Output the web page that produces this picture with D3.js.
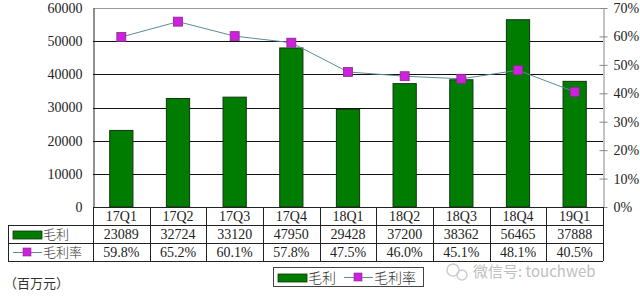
<!DOCTYPE html>
<html>
<head>
<meta charset="utf-8">
<script src="https://cdn.jsdelivr.net/npm/d3@7"></script>
<style>
  body { margin: 0; background: #fff; }
  svg { display: block; font-family: "Liberation Serif", "Noto Sans CJK SC", serif; }
</style>
</head>
<body>
<div id="chart"></div>
<script>
const quarters = ["17Q1", "17Q2", "17Q3", "17Q4", "18Q1", "18Q2", "18Q3", "18Q4", "19Q1"];
const grossProfit = [23089, 32724, 33120, 47950, 29428, 37200, 38362, 56465, 37888];
const grossMargin = [59.8, 65.2, 60.1, 57.8, 47.5, 46.0, 45.1, 48.1, 40.5];
const leftTicks = [0, 10000, 20000, 30000, 40000, 50000, 60000];
const rightTicks = [0, 10, 20, 30, 40, 50, 60, 70];
const seriesNames = ["毛利", "毛利率"];

const width = 640, height = 299;
const plot = { left: 93, right: 603, top: 8, bottom: 207 };
const rowH = 18;
const tableLeft = 8;

const svg = d3.select("#chart").append("svg")
  .attr("width", width).attr("height", height);

const x = d3.scaleBand().domain(quarters).range([plot.left, plot.right]).padding(0);
const y = d3.scaleLinear().domain([0, 60000]).range([plot.bottom, plot.top]);
const y2 = d3.scaleLinear().domain([0, 70]).range([plot.bottom, plot.top]);

const green = "#007d00";
const magenta = "#cc22dd";
const lineColor = "#5a8c98";

// gridlines
svg.append("g")
  .selectAll("line")
  .data(leftTicks.filter((d) => d > 0 && d < 60000))
  .join("line")
  .attr("x1", plot.left).attr("x2", plot.right)
  .attr("y1", (d) => Math.round(y(d)) + 0.5).attr("y2", (d) => Math.round(y(d)) + 0.5)
  .attr("stroke", "#111").attr("stroke-width", 1);

// top border
svg.append("line")
  .attr("x1", plot.left).attr("x2", plot.right)
  .attr("y1", plot.top + 0.5).attr("y2", plot.top + 0.5)
  .attr("stroke", "#999");

// left axis
const leftAxis = d3.axisLeft(y).tickValues(leftTicks).tickFormat(d3.format("d"))
  .tickSize(0).tickPadding(11);
svg.append("g")
  .attr("transform", `translate(${plot.left + 0.5},0)`)
  .call(leftAxis)
  .call((g) => g.select(".domain").attr("stroke", "#222"))
  .call((g) => g.selectAll("text").attr("font-size", 14).attr("fill", "#222")
    .attr("font-family", "Liberation Serif"));

// right axis
const rightAxis = d3.axisRight(y2).tickValues(rightTicks).tickFormat((d) => d + "%")
  .tickSizeInner(4).tickSizeOuter(0).tickPadding(6);
svg.append("g")
  .attr("transform", `translate(${plot.right + 0.5},0)`)
  .call(rightAxis)
  .call((g) => g.select(".domain").attr("stroke", "#888"))
  .call((g) => g.selectAll(".tick line").attr("stroke", "#888").attr("x1", -4))
  .call((g) => g.selectAll("text").attr("font-size", 14).attr("fill", "#222")
    .attr("font-family", "Liberation Serif"));

// bars
const barW = x.bandwidth() * 0.41;
svg.append("g")
  .selectAll("rect")
  .data(grossProfit)
  .join("rect")
  .attr("x", (d, i) => x(quarters[i]) + (x.bandwidth() - barW) / 2)
  .attr("y", (d) => y(d))
  .attr("width", barW)
  .attr("height", (d) => y(0) - y(d))
  .attr("fill", green)
  .attr("stroke", "#113311").attr("stroke-width", 1);

// margin line
const line = d3.line()
  .x((d, i) => x(quarters[i]) + x.bandwidth() / 2)
  .y((d) => y2(d));
svg.append("path")
  .datum(grossMargin)
  .attr("d", line)
  .attr("fill", "none")
  .attr("stroke", lineColor)
  .attr("stroke-width", 1);

svg.append("g")
  .selectAll("rect")
  .data(grossMargin)
  .join("rect")
  .attr("x", (d, i) => x(quarters[i]) + x.bandwidth() / 2 - 4.5)
  .attr("y", (d) => y2(d) - 4.5)
  .attr("width", 9).attr("height", 9)
  .attr("fill", magenta)
  .attr("stroke", "#8a2a8a").attr("stroke-width", 0.8);

// data table
const table = svg.append("g").attr("stroke", "#222").attr("stroke-width", 1);
const t0 = plot.bottom;
[[plot.left, t0], [tableLeft, t0 + rowH], [tableLeft, t0 + 2 * rowH], [tableLeft, t0 + 3 * rowH]]
  .forEach(([x0, yy]) => {
    table.append("line")
      .attr("x1", x0).attr("x2", plot.right)
      .attr("y1", yy + 0.5).attr("y2", yy + 0.5);
  });
table.append("line").attr("x1", tableLeft + 0.5).attr("x2", tableLeft + 0.5)
  .attr("y1", t0 + rowH).attr("y2", t0 + 3 * rowH);
[plot.left].concat(quarters.map((q) => x(q) + x.bandwidth())).forEach((xx) => {
  table.append("line")
    .attr("x1", Math.round(xx) + 0.5).attr("x2", Math.round(xx) + 0.5)
    .attr("y1", t0).attr("y2", t0 + 3 * rowH);
});

const cellText = (vals, row, fmt) => {
  svg.append("g")
    .selectAll("text")
    .data(vals)
    .join("text")
    .attr("x", (d, i) => x(quarters[i]) + x.bandwidth() / 2)
    .attr("y", t0 + row * rowH + 14)
    .attr("text-anchor", "middle")
    .attr("font-size", 14)
    .attr("fill", "#222")
    .text(fmt);
};
cellText(quarters, 0, (d) => d);
cellText(grossProfit, 1, (d) => d);
cellText(grossMargin, 2, (d) => d3.format(".1f")(d) + "%");

// row labels with legend keys
function barKey(g, kx, ky) {
  g.append("rect").attr("x", kx).attr("y", ky - 4).attr("width", 29).attr("height", 8)
    .attr("fill", green).attr("stroke", "#113311").attr("stroke-width", 0.8);
}
function lineKey(g, kx, ky) {
  g.append("line").attr("x1", kx).attr("x2", kx + 29).attr("y1", ky + 0.5).attr("y2", ky + 0.5)
    .attr("stroke", lineColor).attr("stroke-width", 1);
  g.append("rect").attr("x", kx + 10).attr("y", ky - 4).attr("width", 8).attr("height", 8)
    .attr("fill", magenta).attr("stroke", "#8a2a8a").attr("stroke-width", 0.6);
}
const rowLabels = svg.append("g");
barKey(rowLabels, 13, t0 + rowH + 10);
lineKey(rowLabels, 13, t0 + 2 * rowH + 9);
rowLabels.selectAll("text")
  .data(seriesNames)
  .join("text")
  .attr("x", 43)
  .attr("y", (d, i) => t0 + (i + 1) * rowH + 14)
  .attr("font-size", 13)
  .attr("font-family", "Noto Sans CJK SC")
  .attr("font-weight", 300)
  .attr("fill", "#333")
  .text((d) => d);

// unit label
svg.append("text")
  .attr("x", 4).attr("y", 288)
  .attr("font-size", 13)
  .attr("font-family", "Noto Sans CJK SC")
  .attr("fill", "#333")
  .text("（百万元）");

// bottom legend
const legend = svg.append("g");
legend.append("rect").attr("x", 273.5).attr("y", 267.5).attr("width", 150).attr("height", 19)
  .attr("fill", "#fff").attr("stroke", "#444");
barKey(legend, 278, 278);
lineKey(legend, 344, 277);
legend.selectAll("text")
  .data(seriesNames)
  .join("text")
  .attr("x", (d, i) => (i === 0 ? 308 : 374))
  .attr("y", 283)
  .attr("font-size", 14)
  .attr("font-family", "Noto Sans CJK SC")
  .attr("font-weight", 300)
  .attr("fill", "#333")
  .text((d) => d);

// watermark
const wm = svg.append("g").attr("opacity", 0.75);
wm.append("circle").attr("cx", 453).attr("cy", 270).attr("r", 6)
  .attr("fill", "none").attr("stroke", "#bbb").attr("stroke-width", 1.4);
wm.append("circle").attr("cx", 462).attr("cy", 275).attr("r", 5)
  .attr("fill", "none").attr("stroke", "#bbb").attr("stroke-width", 1.4);
wm.append("text")
  .attr("x", 473).attr("y", 277)
  .attr("font-size", 15)
  .attr("font-family", "Noto Sans CJK SC")
  .attr("fill", "#aaa")
  .text("微信号: touchweb");
</script>
</body>
</html>
